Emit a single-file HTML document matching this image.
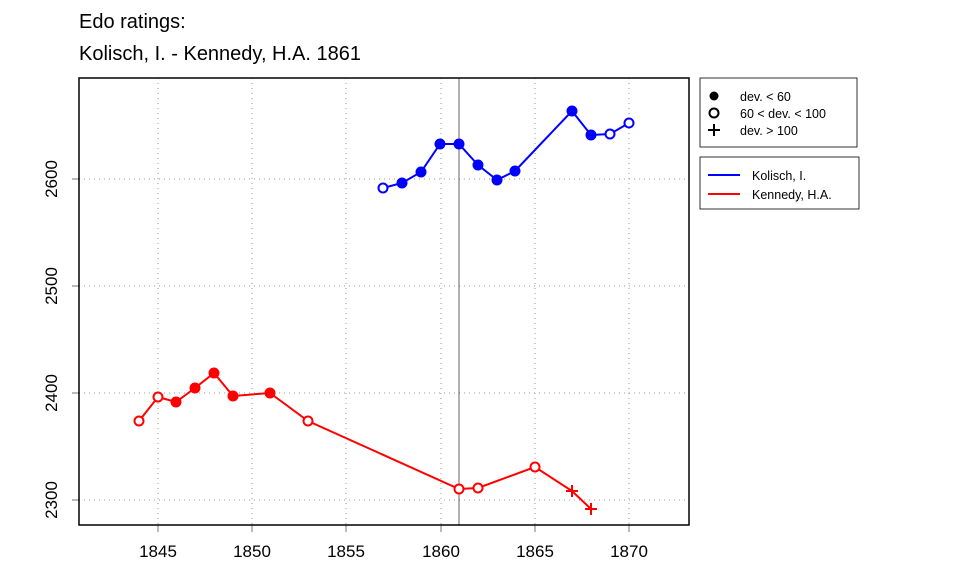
<!DOCTYPE html>
<html><head><meta charset="utf-8"><style>body{margin:0;background:#fff}svg{display:block}text{font-family:"Liberation Sans",sans-serif}</style></head><body>
<svg width="960" height="576" xmlns="http://www.w3.org/2000/svg">
<text x="79" y="28" font-size="20">Edo ratings:</text>
<text x="79" y="60" font-size="20">Kolisch, I. - Kennedy, H.A. 1861</text>
<g stroke="#999" stroke-dasharray="1,4" stroke-width="1">
<line x1="158" y1="78" x2="158" y2="525"/><line x1="252" y1="78" x2="252" y2="525"/><line x1="346" y1="78" x2="346" y2="525"/><line x1="441" y1="78" x2="441" y2="525"/><line x1="535" y1="78" x2="535" y2="525"/><line x1="629" y1="78" x2="629" y2="525"/>
<line x1="79" y1="179" x2="689" y2="179"/><line x1="79" y1="286" x2="689" y2="286"/><line x1="79" y1="393" x2="689" y2="393"/><line x1="79" y1="500" x2="689" y2="500"/>
</g>
<g stroke="#777" stroke-width="1">
<line x1="158" y1="525" x2="158" y2="532"/><line x1="252" y1="525" x2="252" y2="532"/><line x1="346" y1="525" x2="346" y2="532"/><line x1="441" y1="525" x2="441" y2="532"/><line x1="535" y1="525" x2="535" y2="532"/><line x1="629" y1="525" x2="629" y2="532"/>
<line x1="72" y1="179" x2="79" y2="179"/><line x1="72" y1="286" x2="79" y2="286"/><line x1="72" y1="393" x2="79" y2="393"/><line x1="72" y1="500" x2="79" y2="500"/>
</g>
<line x1="459" y1="78" x2="459" y2="525" stroke="#000" stroke-width="0.6"/>
<rect x="79" y="78" width="610" height="447" fill="none" stroke="#000" stroke-width="1.5"/>
<g font-size="17" text-anchor="middle">
<text x="158" y="557">1845</text><text x="252" y="557">1850</text><text x="346" y="557">1855</text><text x="441" y="557">1860</text><text x="535" y="557">1865</text><text x="629" y="557">1870</text>
<text transform="translate(57,179) rotate(-90)">2600</text><text transform="translate(57,286) rotate(-90)">2500</text><text transform="translate(57,393) rotate(-90)">2400</text><text transform="translate(57,500) rotate(-90)">2300</text>
</g>
<g stroke="#00f" stroke-width="2" fill="#00f">
<polyline fill="none" points="383,188 402,183 421,172 440,144 459,144 478,165 497,180 515,171 572,111 591,135 610,134 629,123"/>
<circle cx="383" cy="188" r="4.5" fill="#fff"/><circle cx="402" cy="183" r="4.5"/><circle cx="421" cy="172" r="4.5"/><circle cx="440" cy="144" r="4.5"/><circle cx="459" cy="144" r="4.5"/><circle cx="478" cy="165" r="4.5"/><circle cx="497" cy="180" r="4.5"/><circle cx="515" cy="171" r="4.5"/><circle cx="572" cy="111" r="4.5"/><circle cx="591" cy="135" r="4.5"/><circle cx="610" cy="134" r="4.5" fill="#fff"/><circle cx="629" cy="123" r="4.5" fill="#fff"/>
</g>
<g stroke="#f00" stroke-width="2" fill="#f00">
<polyline fill="none" points="139,421 158,397 176,402 195,388 214,373 233,396 270,393 308,421 459,489 478,488 535,467 572,491 591,509"/>
<circle cx="139" cy="421" r="4.5" fill="#fff"/><circle cx="158" cy="397" r="4.5" fill="#fff"/><circle cx="176" cy="402" r="4.5"/><circle cx="195" cy="388" r="4.5"/><circle cx="214" cy="373" r="4.5"/><circle cx="233" cy="396" r="4.5"/><circle cx="270" cy="393" r="4.5"/><circle cx="308" cy="421" r="4.5" fill="#fff"/><circle cx="459" cy="489" r="4.5" fill="#fff"/><circle cx="478" cy="488" r="4.5" fill="#fff"/><circle cx="535" cy="467" r="4.5" fill="#fff"/>
<path d="M566 491h12M572 485v12M585 509h12M591 503v12"/>
</g>
<rect x="700" y="78" width="157" height="69" fill="none" stroke="#000" stroke-width="0.8"/>
<g font-size="12.5"><text x="740" y="101">dev. &lt; 60</text><text x="740" y="118">60 &lt; dev. &lt; 100</text><text x="740" y="135">dev. &gt; 100</text>
<text x="752" y="180">Kolisch, I.</text><text x="752" y="199">Kennedy, H.A.</text></g>
<circle cx="714" cy="96" r="4.5"/><circle cx="714" cy="113" r="4.5" fill="none" stroke="#000" stroke-width="2"/>
<path d="M708 130h12M714 124v12" stroke="#000" stroke-width="2"/>
<rect x="700" y="157" width="159" height="52" fill="none" stroke="#000" stroke-width="0.8"/>
<line x1="708" y1="175" x2="740" y2="175" stroke="#00f" stroke-width="2"/>
<line x1="708" y1="194" x2="740" y2="194" stroke="#f00" stroke-width="2"/>
</svg>
</body></html>
